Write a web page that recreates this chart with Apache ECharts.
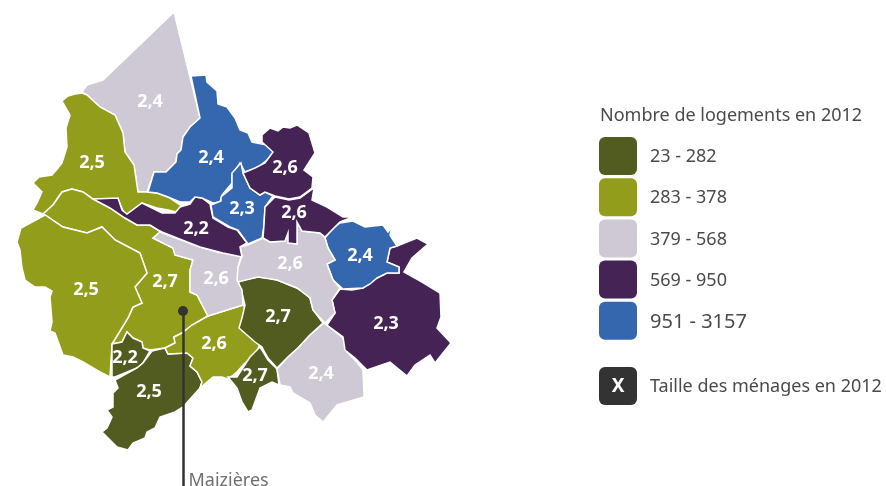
<!DOCTYPE html>
<html>
<head>
<meta charset="utf-8">
<style>
  html, body { margin: 0; padding: 0; background: #fff; }
  #chart { width: 886px; height: 486px; }
</style>
</head>
<body>
<div id="chart"></div>
<script src="https://cdn.jsdelivr.net/npm/echarts@6/dist/echarts.min.js"></script>
<script>
const regionNames = ['Nord', 'Nord-Ouest', 'Maizières', 'Ouest', 'Sud-Ouest', 'Sud', 'Centre-Sud', 'Centre-Est', 'Sud-Centre', 'Sud-Est', 'Est', 'Est-Bleu', 'Centre-Gris', 'Centre', 'Axe', 'Nord-Bleu', 'Petit-Bleu', 'Nord-Est', 'Centre-Violet']
const regionClass = [2, 1, 1, 1, 0, 0, 1, 0, 0, 2, 3, 4, 2, 2, 3, 4, 4, 3, 3]
const householdSize = ['2,4', '2,5', '2,7', '2,5', '2,2', '2,5', '2,6', '2,7', '2,7', '2,4', '2,3', '2,4', '2,6', '2,6', '2,2', '2,4', '2,3', '2,6', '2,6']
const labelPoints = [[150, 102], [92, 163], [165, 282], [86, 290], [125, 358], [149, 392], [214, 344], [278, 317], [255, 376], [321, 374], [386, 324], [360, 256], [290, 264], [216, 279], [196, 229], [211, 158], [242, 209], [285, 168], [294, 213]]

const classLabels = ['23 - 282', '283 - 378', '379 - 568', '569 - 950', '951 - 3157']
const classColors = ['#535c20', '#929d1b', '#cfc8d5', '#452354', '#3467ae']

const town = [183, 311]
const townLeaderEnd = [183, 486]
const townLabelPoint = [183, 481]

// outlines, in the map's own units
const regionOutlines = [
  [[174,12],[200,118],[190,127],[183,137],[181,150],[177,154],[176,162],[166,172],[154,172],[147,192],[138,192],[134,165],[125,152],[123,133],[115,115],[100,107],[87,95],[82,92],[87,85],[103,80]],
  [[62,101],[68,96],[75,94],[82,93],[87,95],[100,107],[115,115],[123,133],[125,152],[134,165],[138,192],[147,192],[157,193],[168,197],[183,207],[180,213],[168,210],[157,208],[142,203],[127,214],[124,213],[118,199],[93,199],[83,192],[72,189],[62,192],[53,205],[43,214],[33,210],[37,203],[42,192],[33,183],[39,177],[52,175],[58,168],[62,163],[67,147],[66,128],[70,115]],
  [[43,214],[53,205],[62,192],[72,189],[83,192],[93,199],[110,208],[125,218],[137,225],[150,225],[158,230],[160,232],[153,238],[173,248],[175,255],[193,260],[190,270],[190,292],[197,295],[208,316],[192,325],[182,333],[174,337],[175,343],[165,348],[150,350],[143,348],[142,342],[133,338],[127,332],[122,342],[112,344],[128,318],[133,307],[142,303],[135,287],[147,273],[140,253],[115,240],[102,227],[87,233],[63,227],[45,215]],
  [[45,215],[63,227],[87,233],[102,227],[115,240],[140,253],[147,273],[135,287],[142,303],[133,307],[128,318],[112,344],[110,377],[100,372],[83,362],[73,357],[63,355],[55,333],[50,331],[52,322],[50,297],[52,291],[45,287],[35,287],[25,280],[22,268],[20,250],[17,242],[21,228]],
  [[112,344],[122,342],[127,332],[133,338],[142,342],[143,348],[150,351],[143,363],[137,368],[115,377],[112,377]],
  [[115,380],[137,368],[143,363],[152,351],[165,348],[168,354],[187,353],[193,358],[190,366],[197,372],[202,382],[200,388],[183,407],[175,412],[160,417],[155,428],[147,432],[145,438],[133,443],[128,450],[117,447],[102,432],[107,428],[112,417],[107,410],[113,407],[113,393],[118,388]],
  [[243,305],[208,316],[192,325],[182,333],[174,337],[175,343],[165,348],[168,354],[187,353],[193,358],[190,366],[197,372],[202,382],[200,388],[207,382],[213,377],[222,377],[228,379],[237,372],[243,365],[257,352],[260,343],[248,333],[240,327],[245,308]],
  [[238,282],[248,279],[258,277],[268,278],[277,280],[287,284],[297,288],[304,292],[310,298],[313,310],[323,323],[310,335],[298,348],[288,357],[277,368],[268,358],[265,353],[262,347],[255,342],[239,328],[242,318],[245,305],[242,293]],
  [[228,377],[237,377],[250,357],[260,347],[265,355],[268,360],[277,369],[279,385],[272,382],[260,388],[252,410],[248,412],[242,402],[237,388]],
  [[324,323],[343,338],[347,352],[355,360],[363,370],[364,397],[337,405],[323,422],[315,415],[310,403],[293,393],[290,387],[280,385],[277,369],[288,357],[298,348],[310,335]],
  [[340,289],[352,290],[363,288],[377,278],[387,273],[399,273],[399,267],[387,262],[390,248],[397,246],[417,238],[428,244],[412,258],[404,272],[422,282],[440,293],[441,317],[437,328],[451,343],[435,363],[430,355],[415,365],[407,376],[390,362],[367,370],[355,358],[345,350],[343,337],[327,325],[335,313],[332,300]],
  [[325,238],[333,228],[340,223],[353,221],[365,227],[383,225],[388,232],[392,227],[390,235],[397,246],[390,248],[387,262],[399,267],[399,273],[387,273],[377,278],[370,284],[363,288],[343,289],[333,280],[327,264],[335,260],[328,248]],
  [[237,280],[237,270],[242,256],[240,247],[248,245],[263,238],[270,242],[285,241],[288,233],[292,243],[297,244],[297,222],[302,231],[320,233],[325,238],[328,248],[335,260],[327,264],[333,280],[340,288],[332,300],[335,313],[325,323],[313,310],[310,298],[297,288],[277,280],[258,277],[238,282]],
  [[193,260],[175,255],[173,248],[153,238],[160,232],[173,237],[200,247],[217,252],[237,255],[241,257],[238,267],[237,280],[242,290],[243,305],[208,316],[197,295],[190,292],[190,270]],
  [[93,199],[118,198],[122,210],[127,214],[142,203],[162,213],[175,213],[180,207],[190,204],[195,197],[202,198],[210,204],[213,218],[228,227],[237,230],[247,243],[240,247],[242,257],[223,253],[200,247],[177,238],[162,232],[158,230],[150,225],[137,225],[125,218],[110,208]],
  [[191,76],[206,75],[207,82],[217,91],[218,104],[227,107],[235,118],[240,130],[248,133],[252,142],[267,145],[274,152],[267,160],[257,168],[245,172],[240,163],[232,175],[232,183],[222,195],[220,202],[213,203],[202,198],[195,197],[190,202],[180,202],[168,197],[157,193],[148,192],[154,172],[166,172],[176,162],[177,154],[181,150],[183,137],[190,127],[200,118]],
  [[241,163],[243,173],[250,188],[260,195],[265,192],[273,196],[265,207],[264,225],[262,238],[248,244],[238,230],[230,227],[213,217],[211,205],[221,201],[221,197],[232,188],[232,173]],
  [[262,135],[270,128],[278,131],[283,127],[290,128],[297,125],[309,133],[315,153],[304,170],[313,177],[312,188],[300,197],[289,199],[275,196],[265,192],[260,195],[250,188],[243,173],[255,168],[265,163],[273,152],[262,142]],
  [[275,197],[289,200],[300,198],[307,193],[314,188],[312,200],[327,207],[343,217],[353,217],[340,222],[325,237],[320,233],[302,231],[297,222],[297,244],[288,243],[288,233],[285,241],[270,242],[263,238],[264,225],[265,207]]
]

const fontFamily = '"Noto Sans", sans-serif'
const textColor = '#4a4a4a'

const mapFeatures = regionNames.map((name, index) => {
  return {
    type: 'Feature',
    properties: { name: name, cp: labelPoints[index] },
    geometry: { type: 'Polygon', coordinates: [regionOutlines[index].concat([regionOutlines[index][0]])] }
  }
})
echarts.registerMap('communes', { type: 'FeatureCollection', features: mapFeatures })

const allPoints = regionOutlines.flat()
const minX = Math.min(...allPoints.map((p) => p[0]))
const maxX = Math.max(...allPoints.map((p) => p[0]))
const minY = Math.min(...allPoints.map((p) => p[1]))
const maxY = Math.max(...allPoints.map((p) => p[1]))

const legendItems = classLabels.flatMap((label, index) => {
  const y = 137 + index * 41.2
  return [
    {
      type: 'rect',
      shape: { x: 599, y: y, width: 38, height: 38, r: 6 },
      style: { fill: classColors[index] }
    },
    {
      type: 'text',
      style: {
        x: 650,
        y: y + 20,
        text: label,
        fill: textColor,
        font: `${index === 4 ? 20 : 18}px ${fontFamily}`,
        verticalAlign: 'middle'
      }
    }
  ]
})

const myChart = echarts.init(document.getElementById('chart'), null, { renderer: 'canvas' })
myChart.setOption({
  animation: false,
  backgroundColor: '#fff',
  geo: {
    map: 'communes',
    projection: { project: (p) => p, unproject: (p) => p },
    left: minX,
    top: minY,
    width: maxX - minX,
    height: maxY - minY,
    roam: false,
    silent: true,
    itemStyle: { borderColor: '#fff', borderWidth: 1.5 },
    label: {
      show: true,
      color: '#fff',
      fontFamily: fontFamily,
      fontSize: 18,
      fontWeight: 700
    },
    regions: regionNames.map((name, index) => {
      return {
        name: name,
        itemStyle: { areaColor: classColors[regionClass[index]] },
        label: { formatter: householdSize[index] }
      }
    })
  },
  series: [
    {
      type: 'lines',
      coordinateSystem: 'geo',
      polyline: false,
      silent: true,
      lineStyle: { color: '#333', width: 2.5, opacity: 1, curveness: 0 },
      data: [{ coords: [town, townLeaderEnd] }]
    },
    {
      type: 'scatter',
      coordinateSystem: 'geo',
      silent: true,
      symbolSize: 10,
      itemStyle: { color: '#333', opacity: 1 },
      data: [{ name: 'Maizières', value: town }]
    },
    {
      type: 'scatter',
      coordinateSystem: 'geo',
      silent: true,
      symbolSize: 1,
      itemStyle: { color: 'transparent' },
      label: {
        show: true,
        position: 'right',
        distance: 5,
        formatter: '{b}',
        color: textColor,
        fontFamily: fontFamily,
        fontSize: 18
      },
      data: [{ name: 'Maizières', value: townLabelPoint }]
    }
  ],
  graphic: [
    {
      type: 'text',
      style: {
        x: 600,
        y: 116,
        text: 'Nombre de logements en 2012',
        fill: textColor,
        font: `18px ${fontFamily}`,
        verticalAlign: 'middle'
      }
    },
    ...legendItems,
    {
      type: 'rect',
      shape: { x: 599, y: 367, width: 38, height: 38, r: 6 },
      style: { fill: '#333' }
    },
    {
      type: 'text',
      style: {
        x: 618,
        y: 387,
        text: 'X',
        fill: '#fff',
        font: `700 19px "Liberation Sans Narrow", ${fontFamily}`,
        align: 'center',
        verticalAlign: 'middle'
      }
    },
    {
      type: 'text',
      style: {
        x: 650,
        y: 387,
        text: 'Taille des ménages en 2012',
        fill: textColor,
        font: `18px ${fontFamily}`,
        verticalAlign: 'middle'
      }
    }
  ]
})
</script>
</body>
</html>
